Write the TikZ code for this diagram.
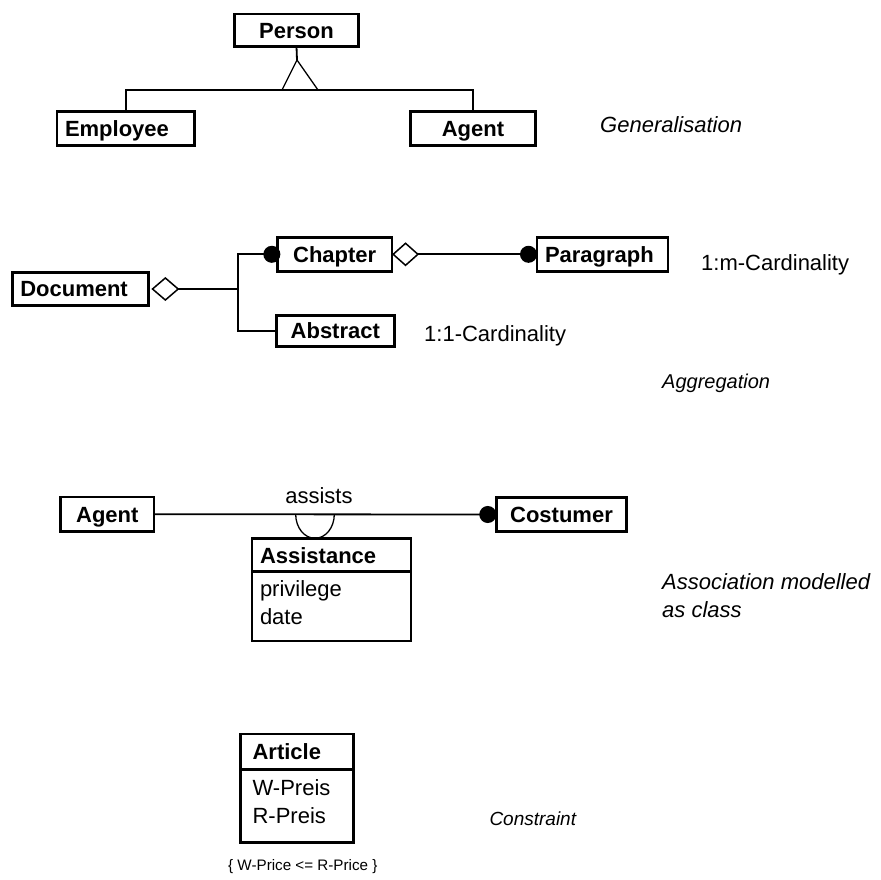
\documentclass[tikz,border=0pt]{standalone}
\usepackage{fontspec}
\setmainfont{Liberation Sans}
\usetikzlibrary{arrows.meta,positioning}
\newcommand{\umlfont}{\fontsize{22}{28}\selectfont}

\begin{document}
\begin{tikzpicture}[x=1pt,y=-1pt,
    cls/.style={draw,line width=2.8pt,outer sep=0pt,inner xsep=8pt,inner ysep=0pt,
        font=\umlfont\bfseries,text height=15.8pt,text depth=0pt},
    attr/.style={draw,line width=2.8pt,outer sep=0pt,inner xsep=8pt,inner ysep=0pt,
        font=\umlfont,align=left,text height=16pt,text depth=36pt},
    link/.style={line width=1.8pt},
    thinlink/.style={line width=1.3pt},
    note/.style={font=\umlfont\itshape,anchor=base west,inner sep=0pt},
    card/.style={font=\umlfont,anchor=base west,inner sep=0pt},
    agg/.style={{Diamond[open,length=28pt,width=24pt,line width=1.5pt]}-},
    many/.style={-{Circle[length=17pt]}},
    aggmany/.style={{Diamond[open,length=27pt,width=24pt,line width=1.5pt]}-{Circle[length=17pt]}}]
    \useasboundingbox (0,0) rectangle (881,879);

    % Generalisation
    \node[cls,text width=108.4pt,align=center,minimum height=32.7pt] (person) at (296.5,30.3) {Person};
    \node[cls,text width=121.4pt,align=left,minimum height=34.1pt] (employee) at (125.7,128.3) {Employee};
    \node[cls,text width=109.4pt,align=center,minimum height=34.1pt] (agentA) at (473,128.3) {Agent};
    \coordinate (apex) at (297,60);
    \coordinate (genbar) at (297,90);
    \draw[link] (person.south) -- (apex);
    \draw[thinlink] ([xshift=-15pt]genbar) -- (apex) -- ([xshift=21pt]genbar);
    \draw[link] (employee.north) |- (genbar) -| (agentA.north);
    \node[note] (gen) at (600,132) {Generalisation};

    % Aggregation
    \node[cls,text width=120.1pt,align=left,minimum height=33.4pt] (document) at (80.3,289) {Document};
    \node[cls,text width=98.7pt,align=center,minimum height=34.1pt] (chapter) at (334.7,254.3) {Chapter};
    \node[cls,text width=102.1pt,align=center,minimum height=31.1pt] (abstract) at (335.3,330.8) {Abstract};
    \node[cls,text width=115pt,align=left,minimum height=34.1pt] (paragraph) at (602.5,254.3) {Paragraph};
    \coordinate (aggjoin) at ([xshift=90pt]document.east);
    \draw[link,agg,shorten <=3pt] (document.east) -- (aggjoin);
    \draw[link,many,shorten >=-3pt] (aggjoin) |- (chapter.west);
    \draw[link] (aggjoin) |- (abstract.west);
    \draw[link,aggmany] (chapter.east) -- (paragraph.west);
    \node[card] (cardm) at (701,270) {1:m-Cardinality};
    \node[card] (cardone) at (424,341.5) {1:1-Cardinality};
    \node[note,font=\fontsize{20}{24}\selectfont\itshape] (aggr) at (662,388) {Aggregation};

    % Association class
    \node[cls,text width=77.4pt,align=center,minimum height=34.4pt] (agentB) at (107.3,514.2) {Agent};
    \node[cls,text width=114.4pt,align=center,minimum height=34.4pt] (costumer) at (561.5,514.5) {Costumer};
    \draw[link,many] (agentB.east) -- node[above=6pt,pos=0.482,font=\umlfont] (assists) {assists} (costumer.west);
    \node[cls,text width=143pt,align=left,minimum height=33.1pt] (asstitle) at (331.5,555.15) {Assistance};
    \node[attr,text width=143pt,minimum height=69.3pt,below=0pt of asstitle] (assattr) {privilege\\date};
    \coordinate (assocL) at (295.7,514.3);
    \draw[thinlink] (assocL) arc[start angle=180,end angle=360,x radius=19.3pt,y radius=24pt];
    \node[note,anchor=north west,align=left] (assoc) at (662,573) {Association modelled\\as class};

    % Constraint
    \node[cls,text width=89.1pt,align=left,inner xsep=12pt,minimum height=35.3pt] (arttitle) at (297.15,751.65) {Article};
    \node[attr,text width=89.1pt,inner xsep=12pt,minimum height=73.4pt,text depth=38pt,below=0pt of arttitle] (artattr) {W-Preis\\R-Preis};
    \node[note,font=\fontsize{19}{24}\selectfont\itshape] (constr) at (489.3,825) {Constraint};
    \node[card,font=\fontsize{15.2}{18}\selectfont] (rule) at (228,870) {\{ W-Price <= R-Price \}};
\end{tikzpicture}
\end{document}
